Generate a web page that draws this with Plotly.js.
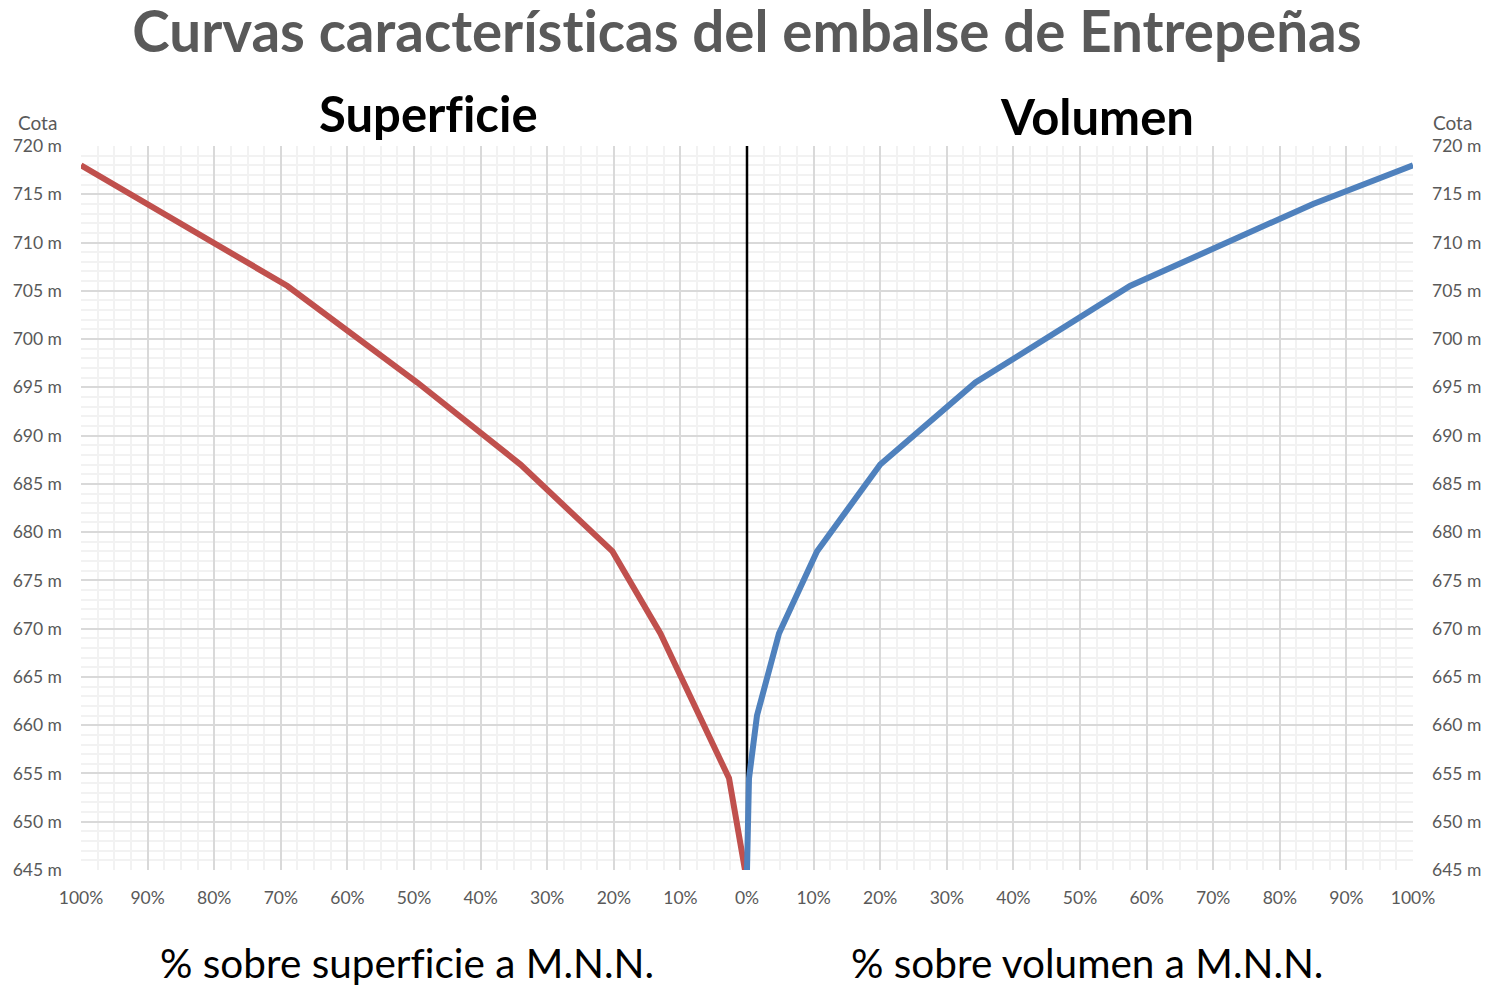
<!DOCTYPE html>
<html><head><meta charset="utf-8">
<script src="https://cdn.plot.ly/plotly-3.0.1.min.js"></script>
<style>html,body{margin:0;padding:0;background:#fff}
text{font-variant-ligatures:none !important;font-feature-settings:"liga" 0, "clig" 0 !important;}</style>
</head><body>
<div id="chart" style="width:1500px;height:987px"></div>
<script>
// Superficie (% of surface at M.N.N.) vs cota
const supCota = [718, 714, 705.5, 695.5, 687, 678, 669.5, 654.5, 645];
const supPct  = [100, 90, 69, 49.5, 34, 20.2, 13, 2.7, 0.3];
// Volumen (% of volume at M.N.N.) vs cota
const volCota = [645, 654.5, 661, 669.5, 678, 687, 695.5, 705.5, 714, 718];
const volPct  = [0, 0.3, 1.5, 4.8, 10.5, 20, 34.3, 57.5, 85, 100];
// ticks
const xTickVals = [-100,-90,-80,-70,-60,-50,-40,-30,-20,-10,0,10,20,30,40,50,60,70,80,90,100];
const xTickText = xTickVals.map(v => Math.abs(v) + '%');
const axisLine = [645, 720];

const grey = '#595959';
const font = 'Lato, "Open Sans", sans-serif';

const traces = [
  {x: [0, 0], y: axisLine, mode: 'lines', line: {color: '#000', width: 2.5}, hoverinfo: 'skip', showlegend: false},
  {x: supPct.map(v => -v), y: supCota, mode: 'lines', line: {color: '#c0504d', width: 6}, showlegend: false},
  {x: volPct, y: volCota, mode: 'lines', line: {color: '#4f81bd', width: 6}, showlegend: false},
  {x: [0], y: [645], yaxis: 'y2', mode: 'markers', marker: {opacity: 0}, hoverinfo: 'skip', showlegend: false}
];

const yCommon = {
  range: [645, 720], dtick: 5, ticksuffix: ' m', showgrid: true, gridcolor: '#d9d9d9', gridwidth: 2,
  zeroline: false, showline: false, ticks: '', ticklabelstandoff: 18,
  tickfont: {family: font, size: 17.5, color: grey},
  minor: {dtick: 1, showgrid: true, gridcolor: '#f2f2f2', gridwidth: 2}
};

const layout = {
  width: 1500, height: 987,
  margin: {l: 81, r: 87, t: 146, b: 117},
  paper_bgcolor: '#fff', plot_bgcolor: '#fff',
  title: {text: '<b>Curvas características del embalse de Entrepeñas</b>', x: 0.498, xanchor: 'center', y: 0.967, yanchor: 'middle',
          font: {family: font, size: 56.5, color: grey}},
  xaxis: {
    range: [-100, 100], tickvals: xTickVals, ticktext: xTickText, showgrid: true, gridcolor: '#d9d9d9', gridwidth: 2,
    zeroline: false, showline: false, ticks: '', ticklabelstandoff: 15,
    tickfont: {family: font, size: 17.5, color: grey},
    minor: {tick0: 0, dtick: 2.5, showgrid: true, gridcolor: '#f2f2f2', gridwidth: 2}
  },
  yaxis: Object.assign({}, yCommon, {side: 'left'}),
  yaxis2: Object.assign({}, yCommon, {side: 'right', overlaying: 'y', showgrid: false, minor: {showgrid: false}}),
  annotations: [
    {text: '<b>Superficie</b>', xref: 'paper', yref: 'paper', x: 0.261, y: 1.045, xanchor: 'center', yanchor: 'middle', showarrow: false, font: {family: font, size: 49, color: '#000'}},
    {text: '<b>Volumen</b>', xref: 'paper', yref: 'paper', x: 0.7625, y: 1.041, xanchor: 'center', yanchor: 'middle', showarrow: false, font: {family: font, size: 49, color: '#000'}},
    {text: 'Cota', xref: 'paper', yref: 'paper', x: -0.033, y: 1.033, xanchor: 'center', yanchor: 'middle', showarrow: false, font: {family: font, size: 19, color: grey}},
    {text: 'Cota', xref: 'paper', yref: 'paper', x: 1.0295, y: 1.033, xanchor: 'center', yanchor: 'middle', showarrow: false, font: {family: font, size: 19, color: grey}},
    {text: '% sobre superficie a M.N.N.', xref: 'paper', yref: 'paper', x: 0.245, y: -0.128, xanchor: 'center', yanchor: 'middle', showarrow: false, font: {family: font, size: 40.5, color: '#000'}},
    {text: '% sobre volumen a M.N.N.', xref: 'paper', yref: 'paper', x: 0.755, y: -0.128, xanchor: 'center', yanchor: 'middle', showarrow: false, font: {family: font, size: 40.5, color: '#000'}}
  ]
};

Plotly.newPlot('chart', traces, layout, {displayModeBar: false, staticPlot: true});
</script>
</body></html>
